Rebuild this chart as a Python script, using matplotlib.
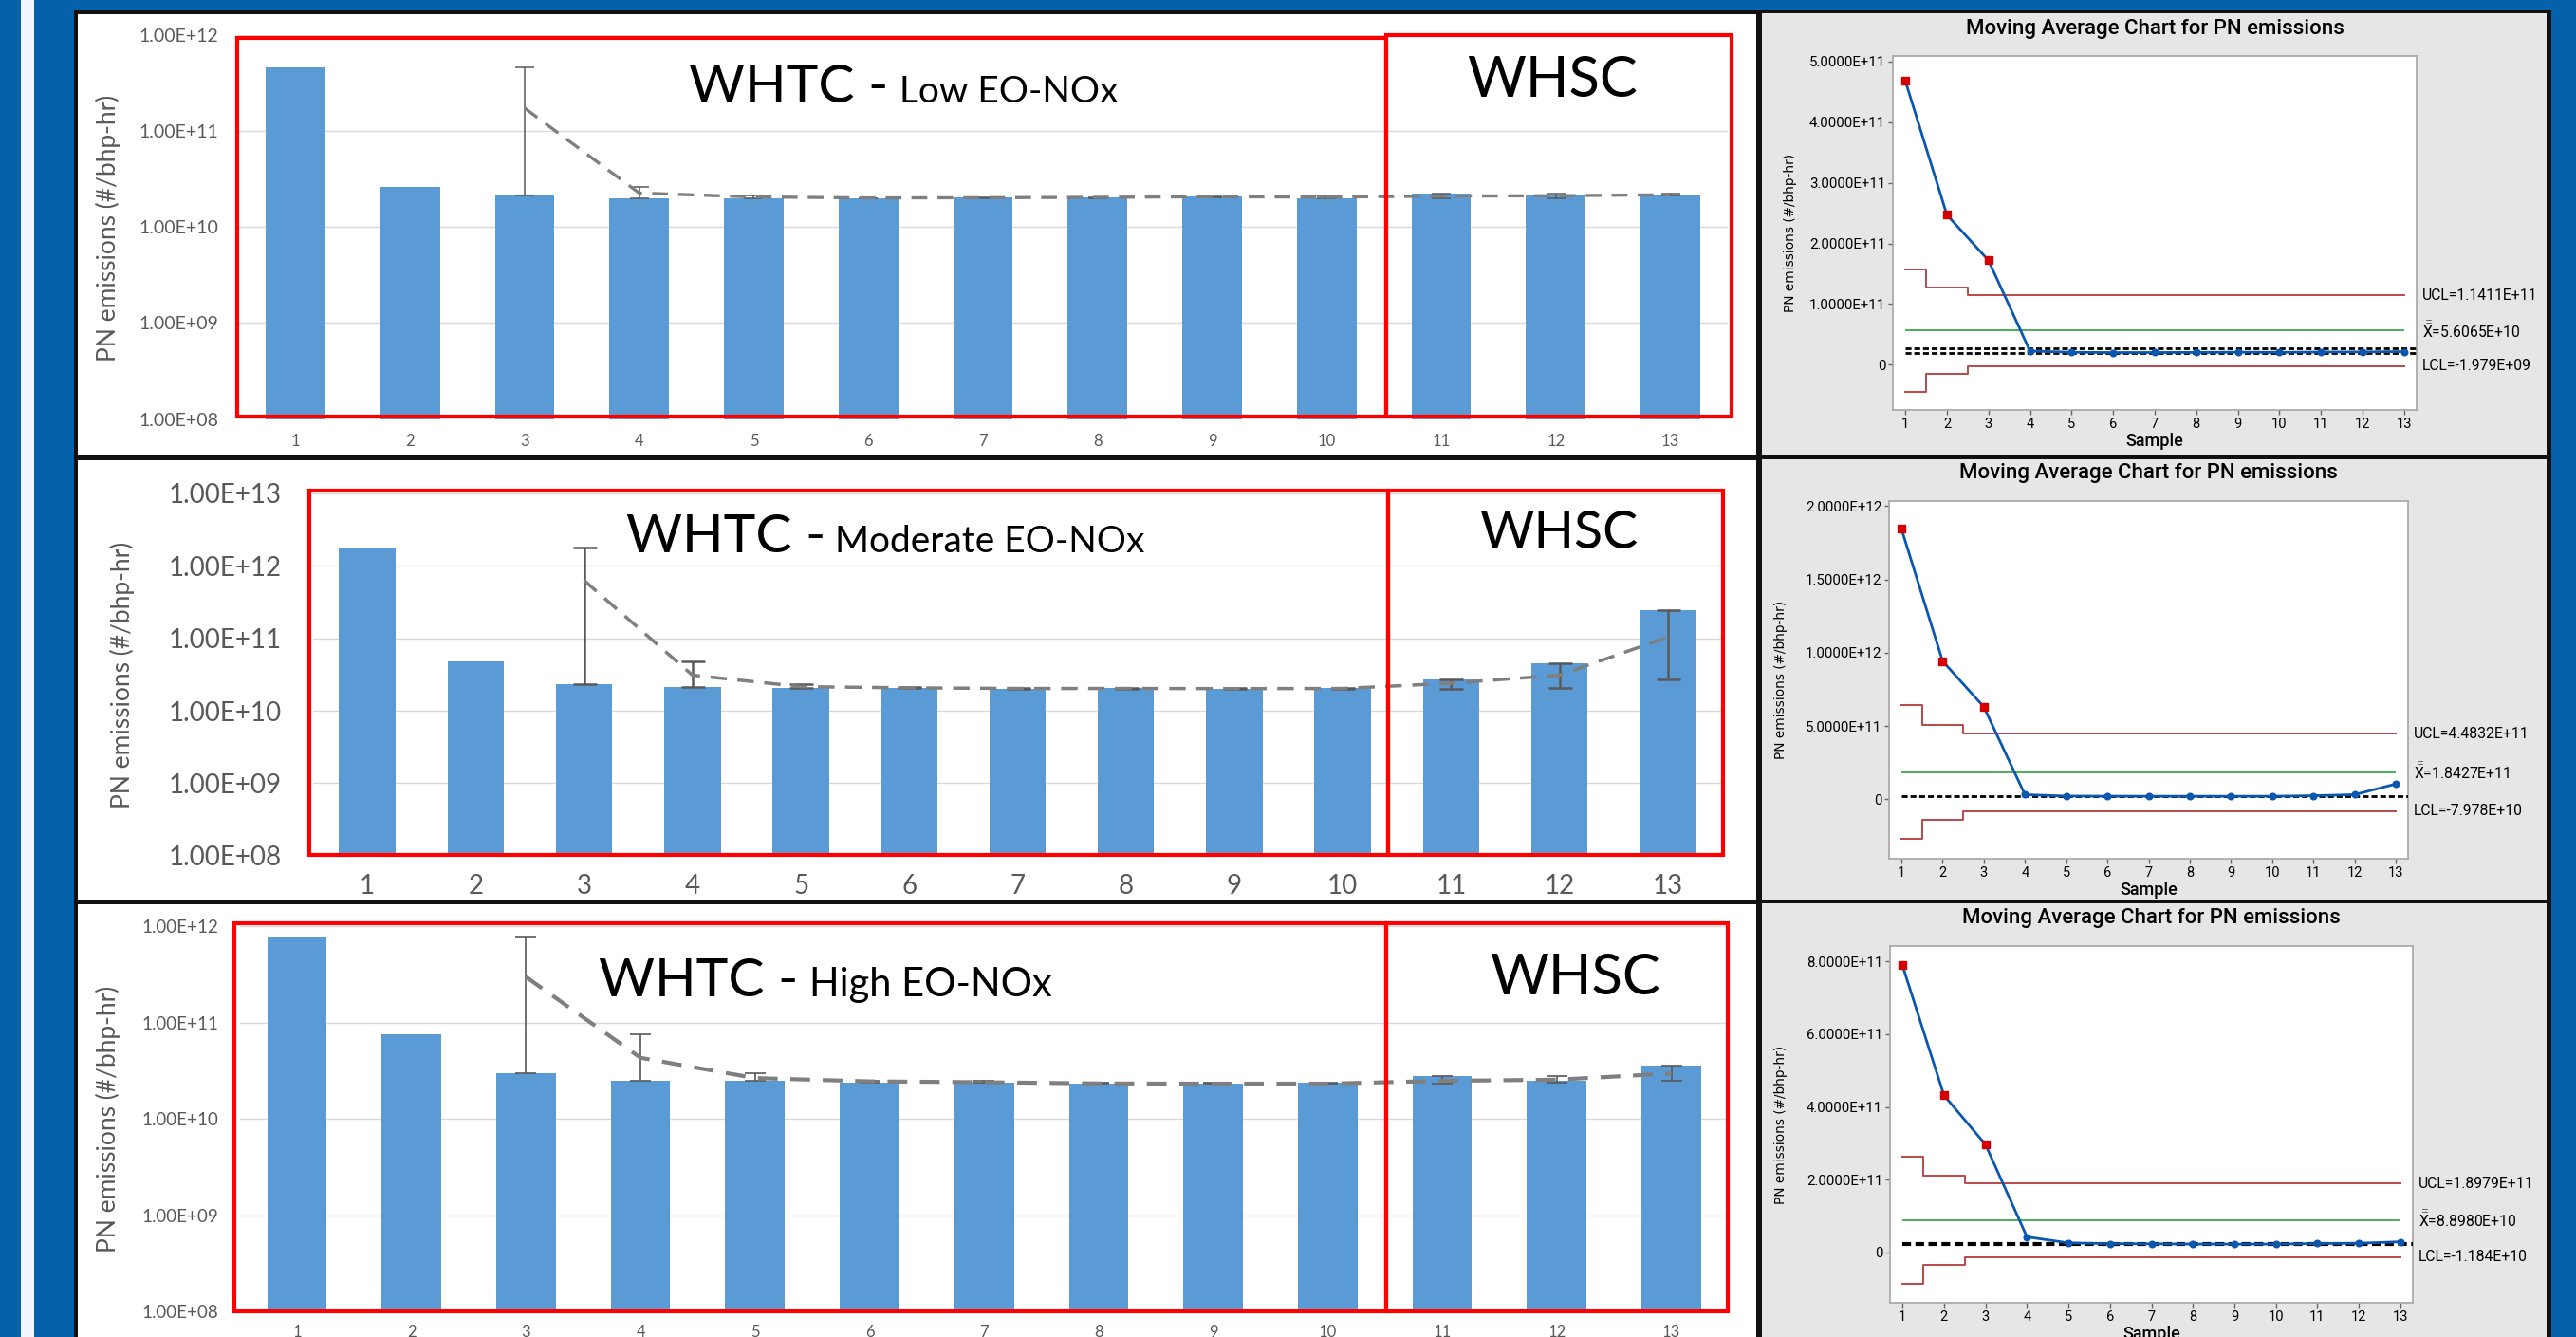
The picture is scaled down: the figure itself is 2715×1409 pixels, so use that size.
import matplotlib

matplotlib.use("Agg")
import matplotlib.pyplot as plt
import numpy as np
from matplotlib.patches import Rectangle
from matplotlib.ticker import NullLocator
from matplotlib.transforms import blended_transform_factory

W, H, DPI = 2715, 1409, 100

SLIDE_BLUE = "#0561a9"
BAR_BLUE = "#5b9bd5"
ERR_GREY = "#595959"
MA_GREY = "#7f7f7f"
GRID = "#d9d9d9"
LABEL_GREY = "#595959"
BOX_RED = "#ff0000"
PANEL_GREY = "#e6e6e6"
MT_BLUE = "#0b57b0"
MT_RED = "#d40000"
LIMIT_RED = "#b8474a"
CENTER_GREEN = "#2ba03c"

SAMPLES = list(range(1, 14))

# PN emissions per test, #/bhp-hr (tests 1-10 WHTC, 11-13 WHSC)
low_pn = [4.6e11, 2.6e10, 2.1e10, 2.0e10, 2.0e10, 1.98e10, 2.05e10, 2.05e10, 2.08e10, 2.0e10, 2.2e10, 2.14e10, 2.14e10]
mod_pn = [1.81e12, 4.8e10, 2.3e10, 2.1e10, 2.05e10, 2.05e10, 2.0e10, 2.05e10, 2.0e10, 2.05e10, 2.7e10, 4.5e10, 2.46e11]
high_pn = [7.85e11, 7.5e10, 2.97e10, 2.5e10, 2.48e10, 2.35e10, 2.35e10, 2.3e10, 2.3e10, 2.35e10, 2.78e10, 2.5e10, 3.6e10]

# moving average (span 3) of the PN results, one point per sample
low_ma = [4.68e11, 2.47e11, 1.72e11, 2.25e10, 2.05e10, 2.0e10, 2.01e10, 2.03e10, 2.06e10, 2.04e10, 2.09e10, 2.11e10, 2.16e10]
mod_ma = [1.845e12, 9.42e11, 6.3e11, 3.1e10, 2.15e10, 2.07e10, 2.03e10, 2.03e10, 2.02e10, 2.03e10, 2.4e10, 3.1e10, 1.04e11]
high_ma = [7.89e11, 4.32e11, 2.97e11, 4.3e10, 2.65e10, 2.45e10, 2.4e10, 2.33e10, 2.32e10, 2.32e10, 2.48e10, 2.55e10, 2.96e10]

# min / max of each 3-test window, samples 3-13 (error bars)
low_win_lo = [2.1e10, 2.0e10, 2.0e10, 1.98e10, 1.98e10, 1.98e10, 2.05e10, 2.0e10, 2.0e10, 2.0e10, 2.14e10]
low_win_hi = [4.6e11, 2.6e10, 2.1e10, 2.0e10, 2.05e10, 2.05e10, 2.08e10, 2.08e10, 2.2e10, 2.2e10, 2.2e10]
mod_win_lo = [2.3e10, 2.1e10, 2.05e10, 2.05e10, 2.0e10, 2.0e10, 2.0e10, 2.0e10, 2.0e10, 2.05e10, 2.7e10]
mod_win_hi = [1.81e12, 4.8e10, 2.3e10, 2.1e10, 2.05e10, 2.05e10, 2.05e10, 2.05e10, 2.7e10, 4.5e10, 2.46e11]
high_win_lo = [2.97e10, 2.5e10, 2.48e10, 2.35e10, 2.35e10, 2.3e10, 2.3e10, 2.3e10, 2.3e10, 2.35e10, 2.5e10]
high_win_hi = [7.85e11, 7.5e10, 2.97e10, 2.5e10, 2.48e10, 2.35e10, 2.35e10, 2.35e10, 2.78e10, 2.78e10, 3.6e10]

# control limits for samples 1, 2 and 3+ (window not yet full for the first two)
low_ucl = [1.565e11, 1.271e11, 1.1411e11]
low_lcl = [-4.44e10, -1.50e10, -1.979e9]
low_xbar = 5.6065e10
low_ref = [2.75e10, 1.88e10]
mod_ucl = [6.416e11, 5.077e11, 4.4832e11]
mod_lcl = [-2.731e11, -1.391e11, -7.978e10]
mod_xbar = 1.8427e11
mod_ref = [1.8e10]
high_ucl = [2.636e11, 2.1245e11, 1.8979e11]
high_lcl = [-8.563e10, -3.449e10, -1.184e10]
high_xbar = 8.898e10
high_ref = [2.43e10]

plt.rcParams["font.family"] = ["Lato", "DejaVu Sans"]
plt.rcParams["mathtext.fontset"] = "custom"
plt.rcParams["mathtext.rm"] = "Roboto"


def frac_box(x0, y0, x1, y1):
    """Pixel box (top-left origin) -> figure fraction rect."""
    return [x0 / W, 1 - y1 / H, (x1 - x0) / W, (y1 - y0) / H]


def ftext(fig, x, y, s, **kw):
    return fig.text(x / W, 1 - y / H, s, **kw)


def block(fig, x0, y0, x1, y1, color, z=-10):
    fig.add_artist(Rectangle((x0 / W, 1 - y1 / H), (x1 - x0) / W, (y1 - y0) / H,
                             transform=fig.transFigure, facecolor=color,
                             edgecolor="none", zorder=z))


def bar_panel(fig, box, vals, ma, lo, hi, top_exp, fs_y, fs_x, pad_y, pad_x,
              err_lw, cap, ma_lw, edges, tops, bottom):
    ax = fig.add_axes(frac_box(*box), facecolor="none")
    ax.set_yscale("log")
    ax.set_xlim(0.5, 13.5)
    ax.set_ylim(1e8, 10.0 ** top_exp)
    decades = [10.0 ** e for e in range(8, top_exp + 1)]
    ax.set_yticks(decades)
    ax.set_yticklabels([f"{d:.2E}" for d in decades])
    ax.yaxis.set_minor_locator(NullLocator())
    ax.set_xticks(SAMPLES)
    ax.set_xticklabels([str(s) for s in SAMPLES])
    ax.tick_params(axis="y", length=0, pad=pad_y, labelsize=fs_y, labelcolor=LABEL_GREY)
    ax.tick_params(axis="x", length=0, pad=pad_x, labelsize=fs_x, labelcolor=LABEL_GREY)
    for s in ax.spines.values():
        s.set_visible(False)
    ax.grid(axis="y", which="major", color=GRID, lw=1.0)
    ax.set_axisbelow(True)

    ax.bar(SAMPLES, vals, width=0.52, color=BAR_BLUE, zorder=2)
    xs = SAMPLES[2:]
    v = np.array(vals[2:])
    ax.errorbar(xs, v, yerr=[v - np.array(lo), np.array(hi) - v], fmt="none",
                ecolor=ERR_GREY, elinewidth=err_lw, capsize=cap, capthick=err_lw, zorder=3)
    ax.plot(xs, ma[2:], color=MA_GREY, lw=ma_lw, dashes=(5, 3.2), zorder=4)

    # WHTC / WHSC outlines
    tr = blended_transform_factory(ax.transData, ax.transAxes)
    for x0, x1, top in ((edges[0], edges[1], tops[0]), (edges[1], edges[2], tops[1])):
        ax.add_patch(Rectangle((x0, bottom), x1 - x0, top - bottom, transform=tr,
                               fill=False, edgecolor=BOX_RED, lw=3.0,
                               clip_on=False, zorder=5))
    return ax


def heading(fig, cx, base, sub, big, small, gap):
    r = fig.canvas.get_renderer()
    t1 = ftext(fig, 0, base, "WHTC -", fontsize=big, va="baseline", color="black")
    t2 = ftext(fig, 0, base, sub, fontsize=small, va="baseline", color="black")
    w1 = t1.get_window_extent(r).width
    w2 = t2.get_window_extent(r).width
    x0 = cx - (w1 + gap + w2) / 2
    t1.set_x(x0 / W)
    t2.set_x((x0 + w1 + gap) / W)


def control_panel(fig, box, ylim, yticks, ma, ucl, lcl, xbar, refs, ref_lw, ylab_x):
    ax = fig.add_axes(frac_box(*box), facecolor="white")
    ax.set_xlim(0.7, 13.3)
    ax.set_ylim(*ylim)
    ax.set_xticks(SAMPLES)
    ax.set_xticklabels([str(s) for s in SAMPLES])
    ax.set_yticks(yticks)
    ax.set_yticklabels(["0" if t == 0 else f"{t:.4E}" for t in yticks])
    ax.tick_params(direction="out", length=3.5, width=1, color="#666666", pad=2)
    ax.tick_params(axis="y", labelsize=10.8)
    ax.tick_params(axis="x", labelsize=10.5)
    for t in ax.get_xticklabels() + ax.get_yticklabels():
        t.set_family("Roboto")
    for s in ax.spines.values():
        s.set_color("#a6a6a6")
        s.set_linewidth(1.2)

    n = len(SAMPLES)
    ucl_line = ucl + [ucl[-1]] * (n - len(ucl))
    lcl_line = lcl + [lcl[-1]] * (n - len(lcl))
    ax.step(SAMPLES, ucl_line, where="mid", color=LIMIT_RED, lw=1.4, zorder=2)
    ax.step(SAMPLES, lcl_line, where="mid", color=LIMIT_RED, lw=1.4, zorder=2)
    ax.hlines(xbar, SAMPLES[0], SAMPLES[-1], color=CENTER_GREEN, lw=1.2, zorder=2)
    x_lo, x_hi = ax.get_xlim()
    for r in refs:
        ax.axhline(r, xmin=(SAMPLES[0] - x_lo) / (x_hi - x_lo), color="black",
                   lw=ref_lw, dashes=(2.2, 1.1), zorder=3)

    m = np.array(ma)
    s = np.array(SAMPLES)
    out = m > np.array(ucl_line)
    ax.plot(s, m, color=MT_BLUE, lw=2.0, zorder=4)
    ax.plot(s[out], m[out], "s", color=MT_RED, ms=6, zorder=5)
    ax.plot(s[~out], m[~out], "o", color=MT_BLUE, ms=4.8, zorder=5)

    tr = blended_transform_factory(ax.transAxes, ax.transData)
    for val, txt in ((ucl[-1], f"UCL={ucl[-1]:.4E}"),
                     (xbar, r"$\bar{\bar{\mathrm{X}}}$" + f"={xbar:.4E}"),
                     (lcl[-1], f"LCL={lcl[-1]:.3E}")):
        ax.annotate(txt, xy=(1.0, val), xycoords=tr, xytext=(4, 0),
                    textcoords="offset points", va="center", ha="left",
                    fontsize=11.3, family="Roboto", color="black",
                    annotation_clip=False)

    x0, y0, x1, y1 = box
    cx = (x0 + x1) / 2
    ftext(fig, cx, y0 - 29, "Moving Average Chart for PN emissions", ha="center",
          va="center", fontsize=16, family="Roboto", fontweight="medium", color="black")
    ftext(fig, cx, y1 + 33, "Sample", ha="center", va="center", fontsize=13,
          family="Roboto", fontweight="medium", color="black")
    ftext(fig, ylab_x, (y0 + y1) / 2, "PN emissions (#/bhp-hr)", rotation=90,
          ha="center", va="center", fontsize=9.8, family="DejaVu Sans", color="black")
    return ax


fig = plt.figure(figsize=(W / DPI, H / DPI), dpi=DPI, facecolor=SLIDE_BLUE)

# slide frame: white stripe, white chart panels, grey Minitab panels, black rules
block(fig, 22, 0, 36, H, "#f2f6fa")
block(fig, 78, 11, 2689, H, "#111111")
for y0, y1 in ((15, 479), (485, 948), (953, H)):
    block(fig, 82, y0, 1851, y1, "white", z=-9)
    block(fig, 1857, y0 - 1, 2684, y1, PANEL_GREY, z=-9)

# bar charts with moving-average trend
bar_panel(fig, (251, 36.5, 1821, 441.7), low_pn, low_ma, low_win_lo, low_win_hi, 12,
          14, 12, 15, 11, 1.1, 7, 2.4, (0.49, 10.52, 13.53), (0.991, 0.9995), 0.0067)
bar_panel(fig, (330, 520, 1815, 901.7), mod_pn, mod_ma, mod_win_lo, mod_win_hi, 13,
          20, 20, 24, 14, 1.8, 9, 2.5, (0.465, 10.42, 13.51), (1.0086, 1.0086), 0.0026)
bar_panel(fig, (252.6, 976, 1821.9, 1382.3), high_pn, high_ma, high_win_lo, high_win_hi, 12,
          13.5, 12, 16, 10, 1.2, 8, 3.0, (0.45, 10.51, 13.49), (1.0074, 1.0074), 0.0)

for x, y in ((114, 240), (129, 711), (114, 1179)):
    ftext(fig, x, y, "PN emissions (#/bhp-hr)", rotation=90, ha="center", va="center",
          fontsize=19, color=LABEL_GREY)

heading(fig, 952, 108, "Low EO-NOx", 41, 28, 12)
heading(fig, 933, 581.7, "Moderate EO-NOx", 41, 28, 10)
heading(fig, 870, 1050, "High EO-NOx", 41, 30, 12)
for x, y, fs in ((1636, 102, 43), (1643, 578, 40), (1660, 1048, 43)):
    ftext(fig, x, y, "WHSC", ha="center", va="baseline", fontsize=fs, color="black")

# Minitab moving-average control charts
control_panel(fig, (1995, 59.3, 2547, 432.3), (-0.751e11, 5.086e11),
              [0, 1e11, 2e11, 3e11, 4e11, 5e11], low_ma, low_ucl, low_lcl, low_xbar,
              low_ref, 2.0, 1887)
control_panel(fig, (1991, 527.7, 2538, 905), (-4.06e11, 2.036e12),
              [0, 5e11, 1e12, 1.5e12, 2e12], mod_ma, mod_ucl, mod_lcl, mod_xbar,
              mod_ref, 2.0, 1877)
control_panel(fig, (1992, 996.7, 2543, 1373.3), (-1.39e11, 8.43e11),
              [0, 2e11, 4e11, 6e11, 8e11], high_ma, high_ucl, high_lcl, high_xbar,
              high_ref, 3.0, 1877)

fig.savefig("out.png", dpi=DPI, facecolor=SLIDE_BLUE)
